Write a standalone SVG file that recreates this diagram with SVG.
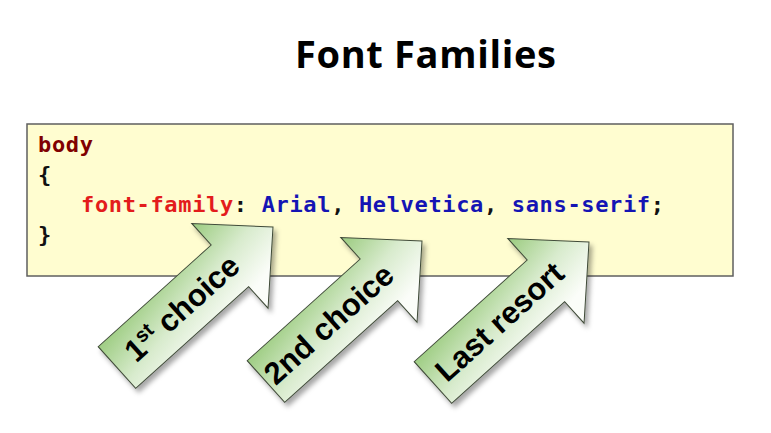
<svg xmlns="http://www.w3.org/2000/svg" xmlns:xlink="http://www.w3.org/1999/xlink" width="771" height="433" viewBox="0 0 771 433">
  <style>
    .title { font-family: "Open Sans", "Liberation Sans", sans-serif; font-weight: bold; font-size: 38px; fill: #000; }
    .code { font-family: "DejaVu Sans Mono", "Liberation Mono", monospace; font-weight: bold; font-size: 22px; letter-spacing: 0.65px; fill: #111; }
    .kw { fill: #800000; }
    .prop { fill: #e31c1c; }
    .val { fill: #1414b4; }
    .box { fill: #fffdd0; stroke: #5f5f5f; stroke-width: 1.5; }
    .arrow { fill: url(#arrowGrad); stroke: #3f4a38; stroke-width: 1; stroke-linejoin: miter; }
    .alabel { font-family: "Liberation Sans", Arial, sans-serif; font-weight: bold; font-size: 31px; fill: #000; }
  </style>
  <defs>
    <linearGradient id="arrowGrad" gradientUnits="userSpaceOnUse" x1="-108" y1="-42" x2="-94" y2="40">
      <stop offset="0" stop-color="#a2cf88"/>
      <stop offset="0.5" stop-color="#d8ebcd"/>
      <stop offset="1" stop-color="#fbfdf9"/>
    </linearGradient>
    <filter id="shadow" x="-20%" y="-20%" width="150%" height="150%">
      <feDropShadow dx="3" dy="4" stdDeviation="2.5" flood-color="#000" flood-opacity="0.35"/>
    </filter>
    <path id="arrowShape" d="M0,0 L-58,-57 L-58,-28 L-210,-28 L-210,28 L-58,28 L-58,57 Z"/>
  </defs>

  <g id="title">
    <text class="title" x="425.5" y="68" text-anchor="middle" textLength="261">Font Families</text>
  </g>

  <g id="codebox">
    <rect class="box" x="27" y="124" width="706" height="152"/>
    <text class="code" xml:space="preserve"><tspan x="38" y="152" class="kw">body</tspan><tspan x="38" y="182">{</tspan><tspan x="81" y="212"><tspan class="prop">font-family</tspan>: <tspan class="val">Arial</tspan>, <tspan class="val">Helvetica</tspan>, <tspan class="val">sans-serif</tspan>;</tspan><tspan x="38" y="242">}</tspan></text>
  </g>

  <g id="connectors"/>

  <g id="arrow1">
    <g filter="url(#shadow)">
      <use xlink:href="#arrowShape" class="arrow" transform="translate(273,227) rotate(-42)"/>
    </g>
    <text class="alabel" transform="translate(273,227) rotate(-42)" x="-122" y="10" text-anchor="middle">1<tspan font-size="20" dy="-11">st</tspan><tspan dy="11"> choice</tspan></text>
  </g>

  <g id="arrow2">
    <g filter="url(#shadow)">
      <use xlink:href="#arrowShape" class="arrow" transform="translate(422,241) rotate(-42)"/>
    </g>
    <text class="alabel" transform="translate(422,241) rotate(-42)" x="-125" y="10" text-anchor="middle">2nd choice</text>
  </g>

  <g id="arrow3">
    <g filter="url(#shadow)">
      <use xlink:href="#arrowShape" class="arrow" transform="translate(589,242) rotate(-42)"/>
    </g>
    <text class="alabel" transform="translate(589,242) rotate(-42)" x="-120" y="10" text-anchor="middle">Last resort</text>
  </g>
</svg>
